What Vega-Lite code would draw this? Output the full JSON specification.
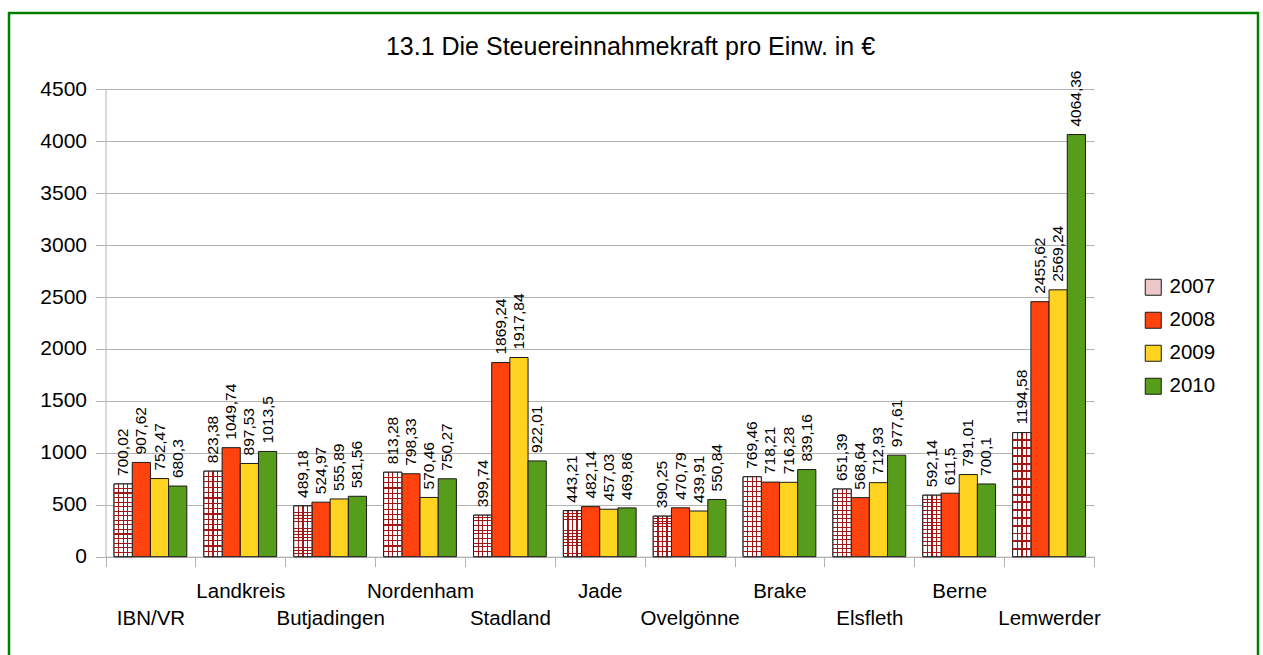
{
  "$schema": "https://vega.github.io/schema/vega-lite/v6.json",
  "autosize": "none",
  "padding": {"left": 9, "top": 13, "right": 5, "bottom": 0},
  "width": 1249,
  "height": 645,
  "background": "#ffffff",
  "title": {
    "text": "13.1 Die Steuereinnahmekraft pro Einw. in €",
    "fontSize": 25,
    "font": "Liberation Sans",
    "fontWeight": "normal",
    "color": "#000000",
    "anchor": "middle",
    "baseline": "alphabetic",
    "offset": -67,
    "dx": -3
  },
  "data": {
    "values": [
      {"gemeinde": "IBN/VR", "jahr": "2007", "wert": 700.02},
      {"gemeinde": "IBN/VR", "jahr": "2008", "wert": 907.62},
      {"gemeinde": "IBN/VR", "jahr": "2009", "wert": 752.47},
      {"gemeinde": "IBN/VR", "jahr": "2010", "wert": 680.3},
      {"gemeinde": "Landkreis", "jahr": "2007", "wert": 823.38},
      {"gemeinde": "Landkreis", "jahr": "2008", "wert": 1049.74},
      {"gemeinde": "Landkreis", "jahr": "2009", "wert": 897.53},
      {"gemeinde": "Landkreis", "jahr": "2010", "wert": 1013.5},
      {"gemeinde": "Butjadingen", "jahr": "2007", "wert": 489.18},
      {"gemeinde": "Butjadingen", "jahr": "2008", "wert": 524.97},
      {"gemeinde": "Butjadingen", "jahr": "2009", "wert": 555.89},
      {"gemeinde": "Butjadingen", "jahr": "2010", "wert": 581.56},
      {"gemeinde": "Nordenham", "jahr": "2007", "wert": 813.28},
      {"gemeinde": "Nordenham", "jahr": "2008", "wert": 798.33},
      {"gemeinde": "Nordenham", "jahr": "2009", "wert": 570.46},
      {"gemeinde": "Nordenham", "jahr": "2010", "wert": 750.27},
      {"gemeinde": "Stadland", "jahr": "2007", "wert": 399.74},
      {"gemeinde": "Stadland", "jahr": "2008", "wert": 1869.24},
      {"gemeinde": "Stadland", "jahr": "2009", "wert": 1917.84},
      {"gemeinde": "Stadland", "jahr": "2010", "wert": 922.01},
      {"gemeinde": "Jade", "jahr": "2007", "wert": 443.21},
      {"gemeinde": "Jade", "jahr": "2008", "wert": 482.14},
      {"gemeinde": "Jade", "jahr": "2009", "wert": 457.03},
      {"gemeinde": "Jade", "jahr": "2010", "wert": 469.86},
      {"gemeinde": "Ovelgönne", "jahr": "2007", "wert": 390.25},
      {"gemeinde": "Ovelgönne", "jahr": "2008", "wert": 470.79},
      {"gemeinde": "Ovelgönne", "jahr": "2009", "wert": 439.91},
      {"gemeinde": "Ovelgönne", "jahr": "2010", "wert": 550.84},
      {"gemeinde": "Brake", "jahr": "2007", "wert": 769.46},
      {"gemeinde": "Brake", "jahr": "2008", "wert": 718.21},
      {"gemeinde": "Brake", "jahr": "2009", "wert": 716.28},
      {"gemeinde": "Brake", "jahr": "2010", "wert": 839.16},
      {"gemeinde": "Elsfleth", "jahr": "2007", "wert": 651.39},
      {"gemeinde": "Elsfleth", "jahr": "2008", "wert": 568.64},
      {"gemeinde": "Elsfleth", "jahr": "2009", "wert": 712.93},
      {"gemeinde": "Elsfleth", "jahr": "2010", "wert": 977.61},
      {"gemeinde": "Berne", "jahr": "2007", "wert": 592.14},
      {"gemeinde": "Berne", "jahr": "2008", "wert": 611.5},
      {"gemeinde": "Berne", "jahr": "2009", "wert": 791.01},
      {"gemeinde": "Berne", "jahr": "2010", "wert": 700.1},
      {"gemeinde": "Lemwerder", "jahr": "2007", "wert": 1194.58},
      {"gemeinde": "Lemwerder", "jahr": "2008", "wert": 2455.62},
      {"gemeinde": "Lemwerder", "jahr": "2009", "wert": 2569.24},
      {"gemeinde": "Lemwerder", "jahr": "2010", "wert": 4064.36}
    ]
  },
  "encoding": {
    "x": {
      "field": "gemeinde",
      "type": "nominal",
      "sort": null,
      "title": null,
      "scale": {"range": [96.5, 1085], "paddingInner": 0, "paddingOuter": 0},
      "axis": {
        "orient": "bottom",
        "offset": -101.3,
        "tickBand": "extent",
        "tickSize": 10,
        "tickColor": "#b3b3b3",
        "domainColor": "#b3b3b3",
        "grid": false,
        "labelAngle": 0,
        "labelFont": "Liberation Sans",
        "labelFontSize": 20.5,
        "labelColor": "#000000",
        "labelPadding": 15,
        "labelBaseline": "top",
        "labelLineHeight": 27,
        "labelOverlap": false,
        "labelBound": false,
        "labelFlush": false,
        "labelLimit": 0,
        "labelExpr": "indexof(['Landkreis','Nordenham','Jade','Brake','Berne'], datum.value) >= 0 ? [datum.value, ''] : ['', datum.value]"
      }
    },
    "y": {
      "field": "wert",
      "type": "quantitative",
      "title": null,
      "scale": {"domain": [0, 4500], "range": [543.7, 76.3], "nice": false, "zero": true},
      "axis": {
        "orient": "left",
        "offset": -96.5,
        "values": [0, 500, 1000, 1500, 2000, 2500, 3000, 3500, 4000, 4500],
        "format": "d",
        "tickSize": 10,
        "tickColor": "#b3b3b3",
        "domainColor": "#b3b3b3",
        "grid": true,
        "gridColor": "#b3b3b3",
        "labelFont": "Liberation Sans",
        "labelFontSize": 21,
        "labelColor": "#000000",
        "labelPadding": 9
      }
    },
    "xOffset": {"field": "jahr", "type": "nominal", "scale": {"paddingInner": 0, "paddingOuter": 0.47}}
  },
  "layer": [
    {
      "mark": {"type": "bar", "stroke": "#1a1a1a", "strokeWidth": 1},
      "encoding": {
        "color": {
          "field": "jahr",
          "type": "nominal",
          "scale": {
            "domain": ["2007", "2008", "2009", "2010"],
            "range": ["#ecc8c8", "#ff420e", "#ffd320", "#579d1c"]
          },
          "legend": {
            "orient": "none",
            "legendX": 1134,
            "legendY": 264,
            "title": null,
            "symbolType": "square",
            "symbolSize": 256,
            "symbolStrokeColor": "#1a1a1a",
            "symbolStrokeWidth": 1,
            "labelFont": "Liberation Sans",
            "labelFontSize": 20.5,
            "labelColor": "#000000",
            "labelOffset": 6,
            "rowPadding": 12,
            "padding": 0
          }
        }
      }
    },
    {
      "transform": [{"filter": "datum.jahr == '2007'"}],
      "mark": {
        "type": "bar",
        "stroke": "#1a1a1a",
        "strokeWidth": 1,
        "fill": {"gradient": "linear", "x1": 0, "y1": 0, "x2": 1, "y2": 0, "stops": [
          {"offset": 0, "color": "#ffffff"},
          {"offset": 0.22, "color": "#ffffff"},
          {"offset": 0.22, "color": "#a01818"},
          {"offset": 0.29, "color": "#a01818"},
          {"offset": 0.29, "color": "#ffffff"},
          {"offset": 0.47, "color": "#ffffff"},
          {"offset": 0.47, "color": "#a01818"},
          {"offset": 0.54, "color": "#a01818"},
          {"offset": 0.54, "color": "#ffffff"},
          {"offset": 0.72, "color": "#ffffff"},
          {"offset": 0.72, "color": "#a01818"},
          {"offset": 0.79, "color": "#a01818"},
          {"offset": 0.79, "color": "#ffffff"},
          {"offset": 1, "color": "#ffffff"}
        ]}
      },
      "encoding": {}
    },
    {
      "transform": [{"filter": "datum.jahr == '2007'"}],
      "mark": {
        "type": "bar",
        "strokeWidth": 0,
        "fill": {"gradient": "linear", "x1": 0, "y1": 0, "x2": 0, "y2": 1, "stops": [
          {"offset": 0, "color": "rgba(255,255,255,0)"},
          {"offset": 0.055, "color": "rgba(255,255,255,0)"},
          {"offset": 0.055, "color": "#a01818"},
          {"offset": 0.07, "color": "#a01818"},
          {"offset": 0.07, "color": "rgba(255,255,255,0)"},
          {"offset": 0.117, "color": "rgba(255,255,255,0)"},
          {"offset": 0.117, "color": "#a01818"},
          {"offset": 0.132, "color": "#a01818"},
          {"offset": 0.132, "color": "rgba(255,255,255,0)"},
          {"offset": 0.18, "color": "rgba(255,255,255,0)"},
          {"offset": 0.18, "color": "#a01818"},
          {"offset": 0.195, "color": "#a01818"},
          {"offset": 0.195, "color": "rgba(255,255,255,0)"},
          {"offset": 0.242, "color": "rgba(255,255,255,0)"},
          {"offset": 0.242, "color": "#a01818"},
          {"offset": 0.257, "color": "#a01818"},
          {"offset": 0.257, "color": "rgba(255,255,255,0)"},
          {"offset": 0.305, "color": "rgba(255,255,255,0)"},
          {"offset": 0.305, "color": "#a01818"},
          {"offset": 0.32, "color": "#a01818"},
          {"offset": 0.32, "color": "rgba(255,255,255,0)"},
          {"offset": 0.367, "color": "rgba(255,255,255,0)"},
          {"offset": 0.367, "color": "#a01818"},
          {"offset": 0.382, "color": "#a01818"},
          {"offset": 0.382, "color": "rgba(255,255,255,0)"},
          {"offset": 0.43, "color": "rgba(255,255,255,0)"},
          {"offset": 0.43, "color": "#a01818"},
          {"offset": 0.445, "color": "#a01818"},
          {"offset": 0.445, "color": "rgba(255,255,255,0)"},
          {"offset": 0.492, "color": "rgba(255,255,255,0)"},
          {"offset": 0.492, "color": "#a01818"},
          {"offset": 0.507, "color": "#a01818"},
          {"offset": 0.507, "color": "rgba(255,255,255,0)"},
          {"offset": 0.555, "color": "rgba(255,255,255,0)"},
          {"offset": 0.555, "color": "#a01818"},
          {"offset": 0.57, "color": "#a01818"},
          {"offset": 0.57, "color": "rgba(255,255,255,0)"},
          {"offset": 0.617, "color": "rgba(255,255,255,0)"},
          {"offset": 0.617, "color": "#a01818"},
          {"offset": 0.632, "color": "#a01818"},
          {"offset": 0.632, "color": "rgba(255,255,255,0)"},
          {"offset": 0.68, "color": "rgba(255,255,255,0)"},
          {"offset": 0.68, "color": "#a01818"},
          {"offset": 0.695, "color": "#a01818"},
          {"offset": 0.695, "color": "rgba(255,255,255,0)"},
          {"offset": 0.742, "color": "rgba(255,255,255,0)"},
          {"offset": 0.742, "color": "#a01818"},
          {"offset": 0.757, "color": "#a01818"},
          {"offset": 0.757, "color": "rgba(255,255,255,0)"},
          {"offset": 0.805, "color": "rgba(255,255,255,0)"},
          {"offset": 0.805, "color": "#a01818"},
          {"offset": 0.82, "color": "#a01818"},
          {"offset": 0.82, "color": "rgba(255,255,255,0)"},
          {"offset": 0.867, "color": "rgba(255,255,255,0)"},
          {"offset": 0.867, "color": "#a01818"},
          {"offset": 0.882, "color": "#a01818"},
          {"offset": 0.882, "color": "rgba(255,255,255,0)"},
          {"offset": 0.93, "color": "rgba(255,255,255,0)"},
          {"offset": 0.93, "color": "#a01818"},
          {"offset": 0.945, "color": "#a01818"},
          {"offset": 0.945, "color": "rgba(255,255,255,0)"},
          {"offset": 1, "color": "rgba(255,255,255,0)"}
        ]}
      },
      "encoding": {}
    },
    {
      "mark": {
        "type": "text",
        "angle": 270,
        "align": "left",
        "baseline": "middle",
        "dx": 8,
        "font": "Liberation Sans",
        "fontSize": 15.5,
        "color": "#000000"
      },
      "encoding": {
        "text": {"field": "wert", "type": "quantitative", "format": "~f"}
      }
    },
    {
      "data": {"values": [{}]},
      "mark": {"type": "rule", "color": "#b3b3b3", "strokeWidth": 1},
      "encoding": {
        "x": {"datum": "Lemwerder", "type": "nominal", "bandPosition": 1},
        "xOffset": null,
        "y": {"datum": 0, "type": "quantitative"},
        "y2": {"datum": 4500}
      }
    }
  ],
  "config": {
    "locale": {
      "number": {"decimal": ",", "thousands": ".", "grouping": [3], "currency": ["", " €"]}
    },
    "view": {"stroke": "#008000", "strokeWidth": 2.5, "fill": "#ffffff"},
    "font": "Liberation Sans"
  }
}
